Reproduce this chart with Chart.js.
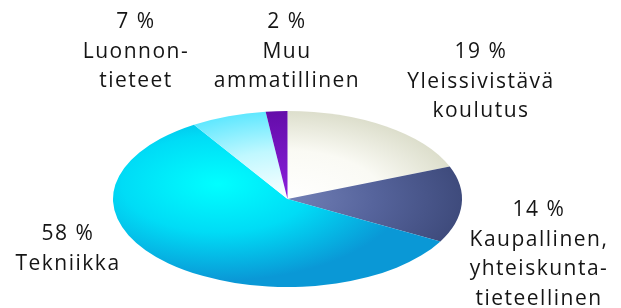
<!DOCTYPE html>
<html>
<head>
<meta charset="utf-8">
<script src="https://cdn.jsdelivr.net/npm/chart.js@4/dist/chart.umd.min.js"></script>
<style>
  html, body { margin: 0; padding: 0; background: #ffffff; }
  #wrap { width: 621px; height: 308px; }
</style>
</head>
<body>
<div id="wrap"><canvas id="c" width="621" height="308"></canvas></div>
<script>
// ---- data ----
const categories = ['Yleissivistävä koulutus', 'Kaupallinen, yhteiskuntatieteellinen', 'Tekniikka', 'Luonnontieteet', 'Muu ammatillinen'];
const values = [19, 14, 58, 7, 2];
const labelLines = [
  ['Yleissivistävä', 'koulutus'],
  ['Kaupallinen,', 'yhteiskunta-', 'tieteellinen'],
  ['Tekniikka'],
  ['Luonnon-', 'tieteet'],
  ['Muu', 'ammatillinen']
];

// ---- styling / layout (not data) ----
const labelAnchors = [
  { x: 481, y: 58 },
  { x: 539, y: 216 },
  { x: 68, y: 240 },
  { x: 136, y: 28 },
  { x: 287, y: 28 }
];
const lineGap = 29.5;
const ellipseRatio = 174.5 / 88;   // horizontal stretch of the flat pie

const gradientStops = [
  [[0, '#ffffff'], [0.5, '#fafaf4'], [1, '#d6d8c3']],
  [[0, '#7280b6'], [0.45, '#56649c'], [1, '#3a4676']],
  [[0, '#00ffff'], [0.5, '#00dcf6'], [1, '#0a98d6']],
  [[0, '#ffffff'], [0.5, '#c0f8ff'], [1, '#4ae4ff']],
  [[0, '#8a20dc'], [1, '#600aa4']]
];
const gradientShift = [
  { dx: 0, dy: 0 }, { dx: 0, dy: 0 }, { dx: -35, dy: -15 }, { dx: 0, dy: 0 }, { dx: 0, dy: 0 }
];

function sliceFill(context) {
  const chart = context.chart;
  const a = chart.chartArea;
  const i = context.dataIndex;
  if (!a || i === undefined) return '#cccccc';
  const cx = (a.left + a.right) / 2, cy = (a.top + a.bottom) / 2;
  const r = Math.min(a.width, a.height) / 2;
  const s = gradientShift[i];
  const g = chart.ctx.createRadialGradient(cx + s.dx, cy + s.dy, 0, cx + s.dx, cy + s.dy, r * 1.1);
  gradientStops[i].forEach(([o, c]) => g.addColorStop(o, c));
  return g;
}

const ellipsePlugin = {
  id: 'ellipse',
  beforeDatasetsDraw(chart) {
    const { ctx, chartArea: a } = chart;
    const cx = (a.left + a.right) / 2, cy = (a.top + a.bottom) / 2;
    ctx.save();
    ctx.translate(cx, cy);
    ctx.scale(ellipseRatio, 1);
    ctx.translate(-cx, -cy);
  },
  afterDatasetsDraw(chart) {
    chart.ctx.restore();
  }
};

const labelPlugin = {
  id: 'sliceLabels',
  afterDraw(chart) {
    const ctx = chart.ctx;
    ctx.save();
    ctx.fillStyle = '#151515';
    ctx.font = '500 21px "Open Sans", sans-serif';
    ctx.letterSpacing = '1.5px';
    ctx.textAlign = 'center';
    ctx.textBaseline = 'alphabetic';
    const data = chart.data.datasets[0].data;
    data.forEach((v, i) => {
      const lines = [v + ' %'].concat(labelLines[i]);
      const an = labelAnchors[i];
      lines.forEach((t, k) => ctx.fillText(t, an.x, an.y + k * lineGap));
    });
    ctx.restore();
  }
};

new Chart(document.getElementById('c'), {
  type: 'pie',
  data: {
    labels: categories,
    datasets: [{
      data: values,
      backgroundColor: sliceFill,
      borderWidth: 0,
      hoverOffset: 0
    }]
  },
  options: {
    responsive: false,
    animation: false,
    rotation: 0,
    layout: { padding: { left: 113, right: 159, top: 111, bottom: 21 } },
    plugins: {
      legend: { display: false },
      tooltip: { enabled: false }
    }
  },
  plugins: [ellipsePlugin, labelPlugin]
});
</script>
</body>
</html>
